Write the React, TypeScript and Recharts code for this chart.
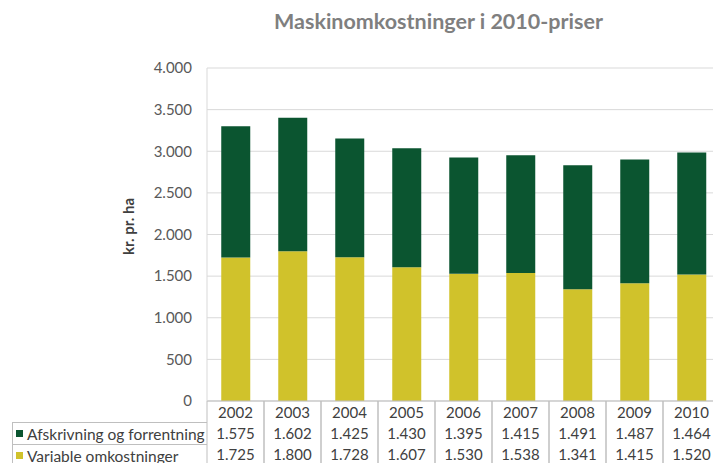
import { BarChart, Bar, XAxis, YAxis, CartesianGrid, Legend } from 'recharts';

const years = ['2002', '2003', '2004', '2005', '2006', '2007', '2008', '2009', '2010'];
const afskrivning = [1575, 1602, 1425, 1430, 1395, 1415, 1491, 1487, 1464];
const variable = [1725, 1800, 1728, 1607, 1530, 1538, 1341, 1415, 1520];
const yTicks = [0, 500, 1000, 1500, 2000, 2500, 3000, 3500, 4000];

const GREEN = '#0b5530';
const YELLOW = '#d0c22b';
const LINE = '#bfbfbf';
const INK = '#404040';

const data = years.map((year, i) => ({
  year,
  'Variable omkostninger': variable[i],
  'Afskrivning og forrentning': afskrivning[i],
}));

// Danish thousands separator: 1.575
const fmt = (n: number) => (n >= 1000 ? `${Math.floor(n / 1000)}.${String(n % 1000).padStart(3, '0')}` : String(n));

// Each x tick draws one column of the data table under the bars
function TableTick(props: any) {
  const { x, y, payload, index } = props;
  const off = payload.offset ?? 28.5;
  return (
    <g>
      <line x1={x - off} x2={x - off} y1={y} y2={470} stroke={LINE} />
      <line x1={x + off} x2={x + off} y1={y} y2={470} stroke={LINE} />
      <text x={x} y={y + 17} textAnchor="middle" fill={INK} fontSize={15}>
        {payload.value}
      </text>
      <text x={x} y={y + 38} textAnchor="middle" fill={INK} fontSize={15}>
        {fmt(afskrivning[index])}
      </text>
      <text x={x} y={y + 59} textAnchor="middle" fill={INK} fontSize={15}>
        {fmt(variable[index])}
      </text>
    </g>
  );
}

// Row labels of the table, green row on top
function TableLegend(props: any) {
  const items = [...(props.payload || [])].sort((a: any, b: any) =>
    a.value === 'Afskrivning og forrentning' ? -1 : b.value === 'Afskrivning og forrentning' ? 1 : 0
  );
  return (
    <div style={{ width: 195 }}>
      {items.map((it: any) => (
        <div
          key={it.value}
          style={{
            height: 21,
            borderTop: `1px solid ${LINE}`,
            borderLeft: `1px solid ${LINE}`,
            display: 'flex',
            alignItems: 'center',
            fontSize: 15.5,
            color: INK,
            whiteSpace: 'nowrap',
          }}
        >
          <span style={{ display: 'inline-block', width: 7, height: 7, background: it.color, margin: '0 4px 0 3px' }} />
          {it.value}
        </div>
      ))}
    </div>
  );
}

export default function App() {
  return (
    <div
      style={{
        position: 'absolute',
        left: 0,
        top: 0,
        width: 713,
        height: 463,
        overflow: 'hidden',
        background: '#fff',
        fontFamily: 'Lato, sans-serif',
      }}
    >
      <div
        style={{
          position: 'absolute',
          left: 274,
          top: 8,
          fontSize: 21.5,
          fontWeight: 700,
          color: '#7f7f7f',
          whiteSpace: 'nowrap',
        }}
      >
        Maskinomkostninger i 2010-priser
      </div>
      <BarChart width={720} height={463} data={data} margin={{ top: 68, right: 0, bottom: 0, left: 0 }} barCategoryGap="25%">
        <CartesianGrid stroke="#d9d9d9" vertical={false} />
        <XAxis
          dataKey="year"
          interval={0}
          height={62}
          tickLine={false}
          tickSize={0}
          tickMargin={0}
          axisLine={{ stroke: LINE }}
          tick={<TableTick />}
        />
        <YAxis
          width={207}
          domain={[0, 4000]}
          ticks={yTicks}
          tickFormatter={fmt}
          tickLine={false}
          tickSize={6}
          tickMargin={9}
          axisLine={{ stroke: '#d9d9d9' }}
          tick={{ fill: '#595959', fontSize: 15 }}
          label={{ value: 'kr. pr. ha', angle: -90, position: 'center', dx: 25, dy: -8, fill: INK, fontSize: 15, fontWeight: 700 }}
        />
        <Legend
          layout="vertical"
          align="center"
          verticalAlign="middle"
          wrapperStyle={{ left: 12, top: 422, width: 195 }}
          content={<TableLegend />}
        />
        <Bar dataKey="Variable omkostninger" stackId="a" fill={YELLOW} isAnimationActive={false} />
        <Bar dataKey="Afskrivning og forrentning" stackId="a" fill={GREEN} isAnimationActive={false} />
      </BarChart>
    </div>
  );
}
